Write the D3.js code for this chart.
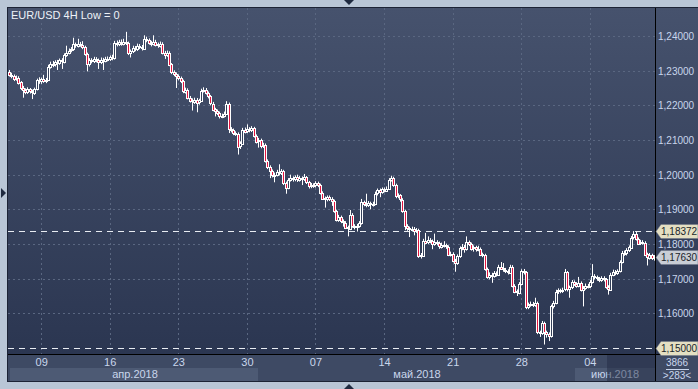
<!DOCTYPE html>
<html><head><meta charset="utf-8">
<script src="https://cdn.jsdelivr.net/npm/d3@7"></script>
<style>html,body{margin:0;padding:0;background:#b9c6d6;overflow:hidden}svg{display:block}</style>
</head><body><svg id="c" width="698" height="389"></svg>
<script>
const title = "EUR/USD 4H Low = 0";
const opens = [1.2297,1.2288,1.2284,1.2276,1.2280,1.2266,1.2250,1.2244,1.2238,1.2246,1.2240,1.2236,1.2247,1.2272,1.2268,1.2275,1.2270,1.2274,1.2312,1.2320,
1.2318,1.2325,1.2322,1.2330,1.2326,1.2345,1.2352,1.2358,1.2362,1.2376,1.2372,1.2378,1.2375,1.2368,1.2348,1.2318,1.2330,1.2328,1.2334,1.2330,
1.2325,1.2332,1.2330,1.2335,1.2333,1.2338,1.2336,1.2380,1.2376,1.2382,1.2378,1.2383,1.2380,1.2350,1.2356,1.2366,1.2362,1.2372,1.2368,1.2364,
1.2392,1.2388,1.2380,1.2378,1.2384,1.2376,1.2372,1.2378,1.2352,1.2346,1.2352,1.2318,1.2296,1.2290,1.2284,1.2278,1.2270,1.2240,1.2245,1.2222,
1.2214,1.2210,1.2216,1.2208,1.2214,1.2242,1.2245,1.2236,1.2226,1.2205,1.2188,1.2183,1.2178,1.2168,1.2170,1.2176,1.2205,1.2132,1.2128,1.2120,
1.2118,1.2080,1.2090,1.2130,1.2125,1.2132,1.2128,1.2134,1.2112,1.2096,1.2100,1.2082,1.2086,1.2040,1.2022,1.2010,1.1998,1.2000,1.2008,1.2004,
1.2010,1.1975,1.1962,1.1985,1.1990,1.1986,1.1992,1.1985,1.1990,1.1987,1.1992,1.1978,1.1966,1.1970,1.1968,1.1975,1.1970,1.1948,1.1932,1.1928,
1.1935,1.1930,1.1924,1.1895,1.1870,1.1878,1.1866,1.1862,1.1848,1.1845,1.1885,1.1852,1.1848,1.1852,1.1860,1.1920,1.1915,1.1912,1.1918,1.1914,
1.1916,1.1945,1.1955,1.1950,1.1958,1.1955,1.1960,1.1985,1.1990,1.1970,1.1938,1.1940,1.1928,1.1895,1.1852,1.1845,1.1842,1.1844,1.1838,1.1840,
1.1765,1.1768,1.1810,1.1805,1.1812,1.1808,1.1800,1.1806,1.1802,1.1792,1.1798,1.1796,1.1792,1.1770,1.1772,1.1752,1.1745,1.1765,1.1788,1.1792,
1.1786,1.1805,1.1800,1.1786,1.1790,1.1784,1.1786,1.1770,1.1768,1.1728,1.1706,1.1712,1.1708,1.1716,1.1712,1.1735,1.1730,1.1726,1.1722,1.1718,
1.1735,1.1680,1.1664,1.1660,1.1685,1.1722,1.1718,1.1618,1.1625,1.1628,1.1624,1.1630,1.1545,1.1542,1.1572,1.1545,1.1540,1.1534,1.1620,1.1630,
1.1662,1.1666,1.1664,1.1668,1.1718,1.1668,1.1675,1.1690,1.1685,1.1680,1.1688,1.1668,1.1674,1.1680,1.1678,1.1690,1.1708,1.1704,1.1700,1.1696,
1.1702,1.1698,1.1676,1.1670,1.1712,1.1720,1.1716,1.1722,1.1748,1.1775,1.1772,1.1782,1.1790,1.1818,1.1828,1.1815,1.1802,1.1806,1.1804,1.1770,
1.1760,1.1768,1.1760];
const closes = [1.2288,1.2284,1.2276,1.2280,1.2266,1.2250,1.2244,1.2238,1.2246,1.2240,1.2236,1.2247,1.2272,1.2268,1.2275,1.2270,1.2274,1.2312,1.2320,1.2318,
1.2325,1.2322,1.2330,1.2326,1.2345,1.2352,1.2358,1.2362,1.2376,1.2372,1.2378,1.2375,1.2368,1.2348,1.2318,1.2330,1.2328,1.2334,1.2330,1.2325,
1.2332,1.2330,1.2335,1.2333,1.2338,1.2336,1.2380,1.2376,1.2382,1.2378,1.2383,1.2380,1.2350,1.2356,1.2366,1.2362,1.2372,1.2368,1.2364,1.2392,
1.2388,1.2380,1.2378,1.2384,1.2376,1.2372,1.2378,1.2352,1.2346,1.2352,1.2318,1.2296,1.2290,1.2284,1.2278,1.2270,1.2240,1.2245,1.2222,1.2214,
1.2210,1.2216,1.2208,1.2214,1.2242,1.2245,1.2236,1.2226,1.2205,1.2188,1.2183,1.2178,1.2168,1.2170,1.2176,1.2205,1.2132,1.2128,1.2120,1.2118,
1.2080,1.2090,1.2130,1.2125,1.2132,1.2128,1.2134,1.2112,1.2096,1.2100,1.2082,1.2086,1.2040,1.2022,1.2010,1.1998,1.2000,1.2008,1.2004,1.2010,
1.1975,1.1962,1.1985,1.1990,1.1986,1.1992,1.1985,1.1990,1.1987,1.1992,1.1978,1.1966,1.1970,1.1968,1.1975,1.1970,1.1948,1.1932,1.1928,1.1935,
1.1930,1.1924,1.1895,1.1870,1.1878,1.1866,1.1862,1.1848,1.1845,1.1885,1.1852,1.1848,1.1852,1.1860,1.1920,1.1915,1.1912,1.1918,1.1914,1.1916,
1.1945,1.1955,1.1950,1.1958,1.1955,1.1960,1.1985,1.1990,1.1970,1.1938,1.1940,1.1928,1.1895,1.1852,1.1845,1.1842,1.1844,1.1838,1.1840,1.1765,
1.1768,1.1810,1.1805,1.1812,1.1808,1.1800,1.1806,1.1802,1.1792,1.1798,1.1796,1.1792,1.1770,1.1772,1.1752,1.1745,1.1765,1.1788,1.1792,1.1786,
1.1805,1.1800,1.1786,1.1790,1.1784,1.1786,1.1770,1.1768,1.1728,1.1706,1.1712,1.1708,1.1716,1.1712,1.1735,1.1730,1.1726,1.1722,1.1718,1.1735,
1.1680,1.1664,1.1660,1.1685,1.1722,1.1718,1.1618,1.1625,1.1628,1.1624,1.1630,1.1545,1.1542,1.1572,1.1545,1.1540,1.1534,1.1620,1.1630,1.1662,
1.1666,1.1664,1.1668,1.1718,1.1668,1.1675,1.1690,1.1685,1.1680,1.1688,1.1668,1.1674,1.1680,1.1678,1.1690,1.1708,1.1704,1.1700,1.1696,1.1702,
1.1698,1.1676,1.1670,1.1712,1.1720,1.1716,1.1722,1.1748,1.1775,1.1772,1.1782,1.1790,1.1818,1.1828,1.1815,1.1802,1.1806,1.1804,1.1770,1.1760,
1.1768,1.1760,1.1763];
const highs = [1.2302,1.2294,1.2289,1.2286,1.2284,1.2270,1.2256,1.2249,1.2252,1.2250,1.2245,1.2251,1.2277,1.2281,1.2280,1.2288,1.2279,1.2317,1.2326,1.2328,
1.2330,1.2331,1.2335,1.2336,1.2350,1.2372,1.2364,1.2368,1.2395,1.2381,1.2392,1.2383,1.2385,1.2372,1.2352,1.2336,1.2336,1.2340,1.2339,1.2335,
1.2338,1.2337,1.2340,1.2341,1.2344,1.2346,1.2386,1.2387,1.2389,1.2390,1.2392,1.2412,1.2384,1.2361,1.2372,1.2371,1.2378,1.2377,1.2374,1.2402,
1.2398,1.2393,1.2386,1.2402,1.2389,1.2381,1.2384,1.2382,1.2357,1.2358,1.2356,1.2322,1.2301,1.2295,1.2289,1.2283,1.2274,1.2251,1.2249,1.2227,
1.2220,1.2222,1.2221,1.2219,1.2248,1.2252,1.2250,1.2240,1.2230,1.2210,1.2193,1.2188,1.2182,1.2176,1.2182,1.2212,1.2208,1.2137,1.2133,1.2125,
1.2122,1.2096,1.2135,1.2136,1.2145,1.2137,1.2140,1.2138,1.2116,1.2106,1.2104,1.2092,1.2090,1.2044,1.2027,1.2015,1.2006,1.2014,1.2030,1.2016,
1.2014,1.1980,1.1990,1.2000,1.1995,1.1998,1.2000,1.1996,1.1995,1.2002,1.1996,1.1982,1.1976,1.1975,1.1981,1.1980,1.1974,1.1952,1.1937,1.1940,
1.1940,1.1935,1.1928,1.1899,1.1884,1.1882,1.1871,1.1866,1.1853,1.1898,1.1889,1.1857,1.1858,1.1866,1.1930,1.1925,1.1945,1.1924,1.1922,1.1922,
1.1951,1.1960,1.1960,1.1963,1.1963,1.1966,1.1990,1.1997,1.1994,1.1974,1.1946,1.1944,1.1932,1.1899,1.1857,1.1850,1.1850,1.1849,1.1846,1.1844,
1.1774,1.1815,1.1832,1.1822,1.1817,1.1813,1.1830,1.1811,1.1807,1.1804,1.1808,1.1801,1.1796,1.1778,1.1776,1.1757,1.1770,1.1793,1.1800,1.1797,
1.1822,1.1810,1.1804,1.1796,1.1795,1.1795,1.1790,1.1775,1.1772,1.1732,1.1718,1.1717,1.1722,1.1721,1.1740,1.1748,1.1745,1.1731,1.1727,1.1740,
1.1739,1.1684,1.1669,1.1690,1.1727,1.1728,1.1722,1.1631,1.1634,1.1633,1.1645,1.1634,1.1550,1.1578,1.1576,1.1550,1.1545,1.1625,1.1636,1.1668,
1.1672,1.1671,1.1674,1.1728,1.1722,1.1680,1.1696,1.1695,1.1690,1.1705,1.1692,1.1679,1.1686,1.1685,1.1696,1.1742,1.1713,1.1709,1.1705,1.1707,
1.1707,1.1702,1.1681,1.1717,1.1726,1.1725,1.1727,1.1753,1.1780,1.1781,1.1788,1.1796,1.1823,1.18372,1.1836,1.1819,1.1812,1.1811,1.1808,1.1775,
1.1774,1.1772,1.1768];
const lows = [1.2283,1.2278,1.2270,1.2271,1.2260,1.2244,1.2222,1.2232,1.2233,1.2234,1.2218,1.2230,1.2243,1.2262,1.2262,1.2265,1.2264,1.2270,1.2306,1.2310,
1.2312,1.2302,1.2317,1.2305,1.2321,1.2340,1.2347,1.2353,1.2357,1.2366,1.2367,1.2369,1.2362,1.2343,1.2298,1.2312,1.2321,1.2322,1.2324,1.2305,
1.2319,1.2302,1.2324,1.2327,1.2328,1.2330,1.2332,1.2370,1.2371,1.2372,1.2373,1.2374,1.2345,1.2338,1.2351,1.2356,1.2357,1.2362,1.2358,1.2360,
1.2382,1.2375,1.2370,1.2373,1.2370,1.2366,1.2367,1.2347,1.2334,1.2340,1.2313,1.2290,1.2284,1.2250,1.2272,1.2264,1.2235,1.2234,1.2217,1.2208,
1.2185,1.2204,1.2180,1.2202,1.2210,1.2237,1.2231,1.2220,1.2200,1.2183,1.2168,1.2172,1.2162,1.2163,1.2165,1.2172,1.2120,1.2122,1.2114,1.2112,
1.2058,1.2074,1.2086,1.2119,1.2120,1.2122,1.2123,1.2107,1.2090,1.2078,1.2076,1.2077,1.2035,1.2016,1.1990,1.1992,1.1978,1.1995,1.1998,1.1999,
1.1970,1.1945,1.1958,1.1980,1.1980,1.1981,1.1979,1.1980,1.1970,1.1982,1.1973,1.1960,1.1961,1.1962,1.1963,1.1964,1.1943,1.1927,1.1905,1.1923,
1.1924,1.1910,1.1890,1.1865,1.1864,1.1860,1.1850,1.1843,1.1822,1.1840,1.1847,1.1842,1.1836,1.1847,1.1856,1.1909,1.1906,1.1907,1.1900,1.1908,
1.1912,1.1940,1.1935,1.1945,1.1949,1.1950,1.1956,1.1980,1.1965,1.1932,1.1932,1.1922,1.1890,1.1840,1.1838,1.1820,1.1836,1.1825,1.1832,1.1760,
1.1758,1.1764,1.1799,1.1800,1.1802,1.1785,1.1795,1.1796,1.1786,1.1787,1.1790,1.1786,1.1765,1.1764,1.1747,1.1720,1.1740,1.1760,1.1782,1.1775,
1.1781,1.1794,1.1781,1.1778,1.1778,1.1779,1.1765,1.1762,1.1723,1.1700,1.1698,1.1688,1.1703,1.1706,1.1708,1.1725,1.1720,1.1716,1.1712,1.1714,
1.1675,1.1658,1.1650,1.1655,1.1681,1.1712,1.1612,1.1612,1.1619,1.1618,1.1619,1.1540,1.1532,1.1538,1.1510,1.1530,1.1520,1.1530,1.1614,1.1626,
1.1656,1.1658,1.1659,1.1664,1.1663,1.1645,1.1670,1.1679,1.1674,1.1675,1.1663,1.1620,1.1668,1.1672,1.1673,1.1686,1.1698,1.1694,1.1690,1.1691,
1.1692,1.1671,1.1654,1.1666,1.1707,1.1710,1.1711,1.1718,1.1744,1.1766,1.1767,1.1777,1.1786,1.1813,1.1810,1.1797,1.1797,1.1798,1.1765,1.1738,
1.1755,1.1754,1.1752];
const visibleBars = 283;
const dayLabels = ["09","16","23","30","07","14","21","28","04"];
const dayBarIndex = [14,44,74,104,134,164,194,224,254];
const monthLabels = ["апр.2018","май.2018","июн.2018"];
const priceTicks = [1.24,1.23,1.22,1.21,1.20,1.19,1.18,1.17,1.16];
const levelLines = [1.18372,1.15];
const lastPrice = 1.1763;
const barCountTop = "3866";
const barCountBottom = ">283<";

const svg = d3.select("#c");
const L=8, R=655, T=8, B=354;
const FONT = "Liberation Sans, Arial, sans-serif";
const x = d3.scaleLinear().domain([0, visibleBars]).range([L, R]);
const y = d3.scaleLinear().domain([1.15, 1.24]).range([348, 36]);
const fmt = v => d3.format(".5f")(v).replace(".", ",");

const defs = svg.append("defs");
const g1 = defs.append("linearGradient").attr("id","bg").attr("x1",0).attr("y1",0).attr("x2",0).attr("y2",1);
g1.append("stop").attr("offset","0%").attr("stop-color","#46526d");
g1.append("stop").attr("offset","100%").attr("stop-color","#2b3651");
defs.append("clipPath").attr("id","plotclip").append("rect").attr("x",L).attr("y",T).attr("width",R-L).attr("height",B-T);

// frame
svg.append("rect").attr("x",0).attr("y",0).attr("width",698).attr("height",389).attr("fill","#b9c6d6");
svg.append("rect").attr("x",7).attr("y",7).attr("width",691).attr("height",375).attr("fill","#1c2335");
svg.append("rect").attr("x",L).attr("y",T).attr("width",698-L).attr("height",B-T).attr("fill","url(#bg)");
svg.append("rect").attr("x",L).attr("y",B).attr("width",698-L).attr("height",381-B).attr("fill","#3e4a64");

// grid
const grid = svg.append("g").attr("clip-path","url(#plotclip)");
grid.selectAll("line.h").data(priceTicks).join("line")
  .attr("x1",L).attr("x2",R).attr("y1",d=>Math.round(y(d))+0.5).attr("y2",d=>Math.round(y(d))+0.5)
  .attr("stroke","#5a6781").attr("stroke-dasharray","2,3");
grid.selectAll("line.v").data(dayBarIndex).join("line")
  .attr("x1",d=>Math.round(x(d+0.5))+0.5).attr("x2",d=>Math.round(x(d+0.5))+0.5).attr("y1",T).attr("y2",B)
  .attr("stroke","#5a6781").attr("stroke-dasharray","2,3");

// level lines
grid.selectAll("line.lv").data(levelLines).join("line")
  .attr("x1",L).attr("x2",R).attr("y1",d=>Math.round(y(d))+0.5).attr("y2",d=>Math.round(y(d))+0.5)
  .attr("stroke","#e8ecf2").attr("stroke-dasharray","6,5");

// candles
const data = opens.map((o,i)=>({i,o,c:closes[i],h:highs[i],l:lows[i]}));
const cg = svg.append("g").attr("clip-path","url(#plotclip)");
const cx = d => Math.round(x(d.i+0.5));
cg.selectAll("line.wick").data(data).join("line")
  .attr("x1",d=>cx(d)+0.5).attr("x2",d=>cx(d)+0.5)
  .attr("y1",d=>y(d.h)).attr("y2",d=>y(d.l))
  .attr("stroke","#ffffff").attr("stroke-width",1);
cg.selectAll("rect.body").data(data).join("rect")
  .attr("x",d=>cx(d)-0.5).attr("width",2)
  .attr("y",d=>Math.round(y(Math.max(d.o,d.c)))+0.5)
  .attr("height",d=>Math.max(1,Math.round(Math.abs(y(d.o)-y(d.c)))))
  .attr("fill",d=>d.c<d.o?"#e3153f":"#34405a")
  .attr("stroke","#ffffff").attr("stroke-width",1);

// axis lines
svg.append("line").attr("x1",R+0.5).attr("x2",R+0.5).attr("y1",T).attr("y2",381).attr("stroke","#000");
svg.append("line").attr("x1",L).attr("x2",698).attr("y1",B+0.5).attr("y2",B+0.5).attr("stroke","#000");

// title
svg.append("text").attr("x",11).attr("y",19).attr("fill","#eef2f8")
  .attr("font-family",FONT).attr("font-size",11).text(title);

// right axis ticks
const yAxis = d3.axisRight(y).tickValues(priceTicks).tickSize(0).tickPadding(3).tickFormat(fmt);
const ya = svg.append("g").attr("transform",`translate(${R},0)`).call(yAxis);
ya.select(".domain").remove();
ya.selectAll("text").attr("fill","#c9d6ec").attr("font-family",FONT).attr("font-size",10).attr("dy","0.35em");

// price labels
const tags = [
  {v:levelLines[0], bg:"#e4dfc2"},
  {v:lastPrice, bg:"#c9ced6"},
  {v:levelLines[1], bg:"#e4dfc2"}
];
const tg = svg.append("g").selectAll("g").data(tags).join("g")
  .attr("transform",d=>`translate(${R+1},${Math.round(y(d.v))+0.5})`);
tg.append("path").attr("d","M0,0 L5,-7 L42,-7 L42,7 L5,7 Z").attr("fill",d=>d.bg).attr("stroke","#6b7386").attr("stroke-width",0.5);
tg.append("text").attr("x",5).attr("y",0).attr("dy","0.36em").attr("fill","#1a1f2a")
  .attr("font-family",FONT).attr("font-size",10).text(d=>fmt(d.v));

// bottom axis: month bands
const monthBand = [[10,258],[258,575],[575,655]];
svg.append("rect").attr("x",monthBand[0][0]).attr("y",368).attr("width",monthBand[0][1]-monthBand[0][0]).attr("height",13).attr("fill","#4d5a74");
svg.append("rect").attr("x",monthBand[2][0]).attr("y",368).attr("width",monthBand[2][1]-monthBand[2][0]).attr("height",13).attr("fill","#4d5a74");
svg.selectAll("text.m").data(monthLabels).join("text")
  .attr("x",(d,i)=>[135,417,615][i]).attr("y",378).attr("text-anchor","middle")
  .attr("fill","#c9d6ec").attr("font-family",FONT).attr("font-size",11).text(d=>d);
const xAxis = d3.axisBottom(x).tickValues(dayBarIndex.map(d=>d+0.5)).tickSize(0).tickPadding(4)
  .tickFormat((d,i)=>dayLabels[i]);
const xa = svg.append("g").attr("transform",`translate(0,${B})`).call(xAxis);
xa.select(".domain").remove();
xa.selectAll("text").attr("fill","#c9d6ec").attr("font-family",FONT).attr("font-size",11);
svg.append("rect").attr("x",607).attr("y",B+1).attr("width",R-607).attr("height",381-B-1).attr("fill","#1e2840").attr("opacity",0.45);

// bar count
svg.append("text").attr("x",677).attr("y",366).attr("text-anchor","middle").attr("fill","#c9d6ec")
  .attr("font-family",FONT).attr("font-size",10).text(barCountTop);
svg.append("line").attr("x1",666).attr("x2",689).attr("y1",369.5).attr("y2",369.5).attr("stroke","#c9d6ec");
svg.append("text").attr("x",677).attr("y",379).attr("text-anchor","middle").attr("fill","#c9d6ec")
  .attr("font-family",FONT).attr("font-size",10).text(barCountBottom);

// triangles
svg.append("path").attr("d","M344,0 L354,0 L349,5 Z").attr("fill","#1f2a40");
svg.append("path").attr("d","M344,389 L354,389 L349,384 Z").attr("fill","#1f2a40");
svg.append("path").attr("d","M1,188 L1,198 L6,193 Z").attr("fill","#1f2a40");
</script></body></html>
